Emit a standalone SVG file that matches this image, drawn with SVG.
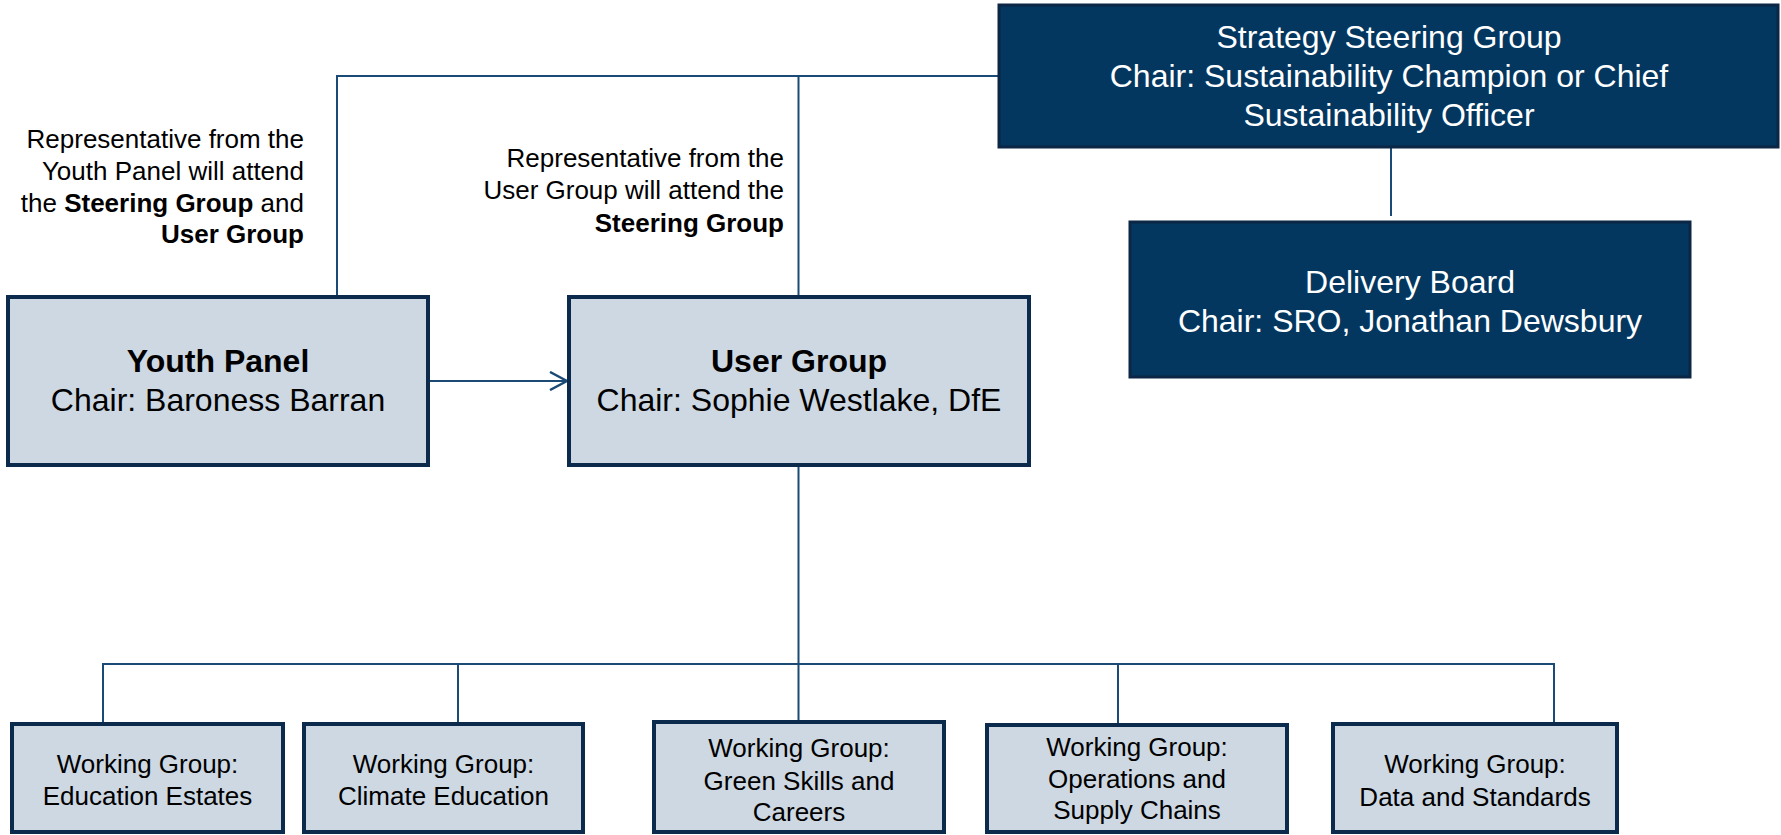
<svg xmlns="http://www.w3.org/2000/svg" width="1781" height="835" viewBox="0 0 1781 835">
<defs>
<style>
.lbox{fill:#cdd8e2;stroke:#0b2a4c;stroke-width:4}
.dbox{fill:#03375f;stroke:#0b2745;stroke-width:3}
.conn{stroke:#1b4a76;stroke-width:2;fill:none}
text{font-family:"Liberation Sans",Arial,sans-serif}
.t32{font-size:32px;fill:#000;text-anchor:middle}
.w32{font-size:32px;fill:#fff;text-anchor:middle}
.t26{font-size:26px;fill:#000;text-anchor:middle}
.note{font-size:26px;fill:#000;text-anchor:end}
.b{font-weight:bold}
</style>
<marker id="open" viewBox="0 0 20 20" refX="18" refY="10" markerWidth="20" markerHeight="20" markerUnits="userSpaceOnUse" orient="auto">
<path d="M1,1 L18,10 L1,19" fill="none" stroke="#1b4a76" stroke-width="2.5"/>
</marker>
</defs>
<rect width="1781" height="835" fill="#fff"/>
<g id="connectors">
<polyline class="conn" points="337,296 337,76 999,76"/>
<line class="conn" x1="798.5" y1="76" x2="798.5" y2="296"/>
<line class="conn" x1="1391" y1="147" x2="1391" y2="216"/>
<line class="conn" x1="428" y1="381" x2="567" y2="381" marker-end="url(#open)"/>
<line class="conn" x1="798.5" y1="465" x2="798.5" y2="722"/>
<polyline class="conn" points="103,724 103,664 1554,664 1554,724"/>
<line class="conn" x1="458" y1="664" x2="458" y2="724"/>
<line class="conn" x1="1118" y1="664" x2="1118" y2="725"/>
</g>
<g id="strategy">
<rect class="dbox" x="999" y="5" width="779" height="142"/>
<text class="w32" x="1389" y="48">Strategy Steering Group</text>
<text class="w32" x="1389" y="87">Chair: Sustainability Champion or Chief</text>
<text class="w32" x="1389" y="126">Sustainability Officer</text>
</g>
<g id="delivery">
<rect class="dbox" x="1130" y="222" width="560" height="155"/>
<text class="w32" x="1410" y="293">Delivery Board</text>
<text class="w32" x="1410" y="332">Chair: SRO, Jonathan Dewsbury</text>
</g>
<g id="youth-note">
<text class="note" x="304" y="148">Representative from the</text>
<text class="note" x="304" y="180">Youth Panel will attend</text>
<text class="note" x="304" y="212">the <tspan class="b">Steering Group</tspan> and</text>
<text class="note b" x="304" y="243">User Group</text>
</g>
<g id="user-note">
<text class="note" x="784" y="167">Representative from the</text>
<text class="note" x="784" y="199">User Group will attend the</text>
<text class="note b" x="784" y="232">Steering Group</text>
</g>
<g id="youth">
<rect class="lbox" x="8" y="297" width="420" height="168"/>
<text class="t32 b" x="218" y="372">Youth Panel</text>
<text class="t32" x="218" y="411">Chair: Baroness Barran</text>
</g>
<g id="user">
<rect class="lbox" x="569" y="297" width="460" height="168"/>
<text class="t32 b" x="799" y="372">User Group</text>
<text class="t32" x="799" y="411">Chair: Sophie Westlake, DfE</text>
</g>
<g id="wg-estates">
<rect class="lbox" x="12" y="724" width="271" height="108"/>
<text class="t26" x="147.5" y="773">Working Group:</text>
<text class="t26" x="147.5" y="805">Education Estates</text>
</g>
<g id="wg-climate">
<rect class="lbox" x="304" y="724" width="279" height="108"/>
<text class="t26" x="443.5" y="773">Working Group:</text>
<text class="t26" x="443.5" y="805">Climate Education</text>
</g>
<g id="wg-skills">
<rect class="lbox" x="654" y="722" width="290" height="110"/>
<text class="t26" x="799" y="757">Working Group:</text>
<text class="t26" x="799" y="790">Green Skills and</text>
<text class="t26" x="799" y="821">Careers</text>
</g>
<g id="wg-operations">
<rect class="lbox" x="987" y="725" width="300" height="107"/>
<text class="t26" x="1137" y="756">Working Group:</text>
<text class="t26" x="1137" y="788">Operations and</text>
<text class="t26" x="1137" y="819">Supply Chains</text>
</g>
<g id="wg-data">
<rect class="lbox" x="1333" y="724" width="284" height="108"/>
<text class="t26" x="1475" y="773">Working Group:</text>
<text class="t26" x="1475" y="806">Data and Standards</text>
</g>
</svg>
